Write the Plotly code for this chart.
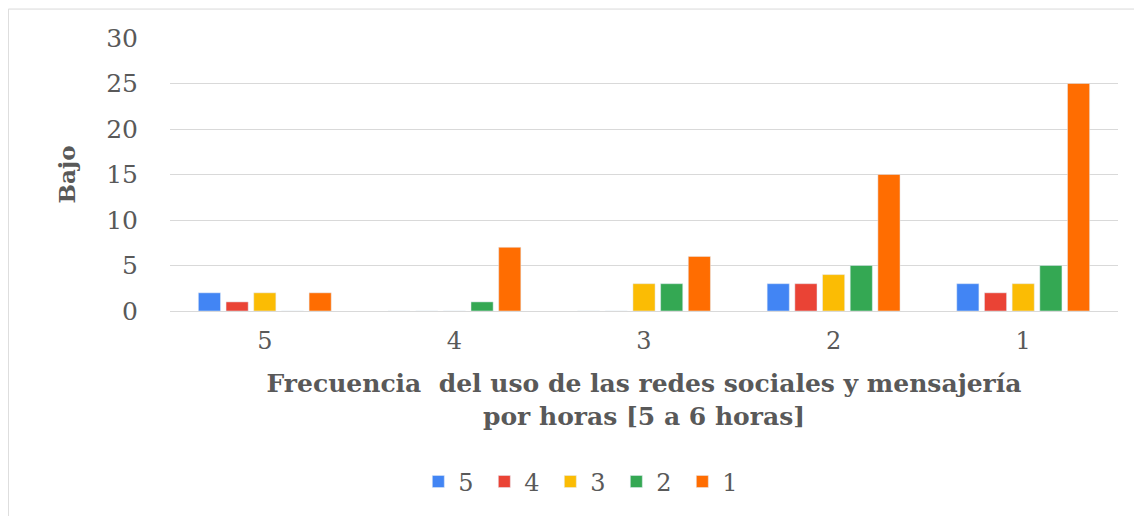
import plotly.graph_objects as go

categories = ["5", "4", "3", "2", "1"]
series_names = ["5", "4", "3", "2", "1"]
s5 = [2, 0, 0, 3, 3]
s4 = [1, 0, 0, 3, 2]
s3 = [2, 0, 3, 4, 3]
s2 = [0, 1, 3, 5, 5]
s1 = [2, 7, 6, 15, 25]
colors = ["#4285F4", "#EA4335", "#FBBC04", "#34A853", "#FF6D01"]

serif = "DejaVu Serif"
grey = "#595959"

fig = go.Figure()
for name, vals, col in zip(series_names, [s5, s4, s3, s2, s1], colors):
    fig.add_trace(go.Bar(x=categories, y=vals, name=name, marker_color=col))

# page body adds an 8px margin, so the figure is a bit smaller than the window
fig.update_layout(
    width=1134, height=508,
    margin=dict(l=162, r=24, t=30, b=205),
    paper_bgcolor="white", plot_bgcolor="white",
    barmode="group", bargap=0.27, bargroupgap=0.2,
    font=dict(family=serif, size=22, color=grey),
    showlegend=True,
    legend=dict(orientation="h", x=0.436, xanchor="center", y=-0.626, yanchor="middle",
                font=dict(family=serif, size=24, color=grey),
                entrywidth=21, entrywidthmode="pixels", itemwidth=30,
                traceorder="normal"),
    xaxis=dict(
        type="category", showgrid=False, showline=False, ticks="", automargin=False,
        ticklabelstandoff=13,
        tickfont=dict(family=serif, size=24, color=grey),
        title=dict(text="<b>Frecuencia  del uso de las redes sociales y mensajería<br>por horas [5 a 6 horas]</b>",
                   font=dict(family=serif, size=25, color=grey), standoff=20),
    ),
    yaxis=dict(
        range=[0, 30], dtick=5, showgrid=True, gridcolor="#d9d9d9", gridwidth=1,
        zeroline=True, zerolinecolor="#d9d9d9", zerolinewidth=1,
        showline=False, ticks="", ticklabelstandoff=31, automargin=False,
        tickfont=dict(family=serif, size=25, color=grey),
        title=dict(text="<b>Bajo</b>", font=dict(family=serif, size=23, color=grey), standoff=24),
    ),
    shapes=[dict(type="rect", xref="paper", yref="paper",
                 x0=-0.1705, x1=1.1, y0=-0.76, y1=1.106,
                 line=dict(color="#d9d9d9", width=1), fillcolor="rgba(0,0,0,0)")],
)

fig.write_html("out.html")
